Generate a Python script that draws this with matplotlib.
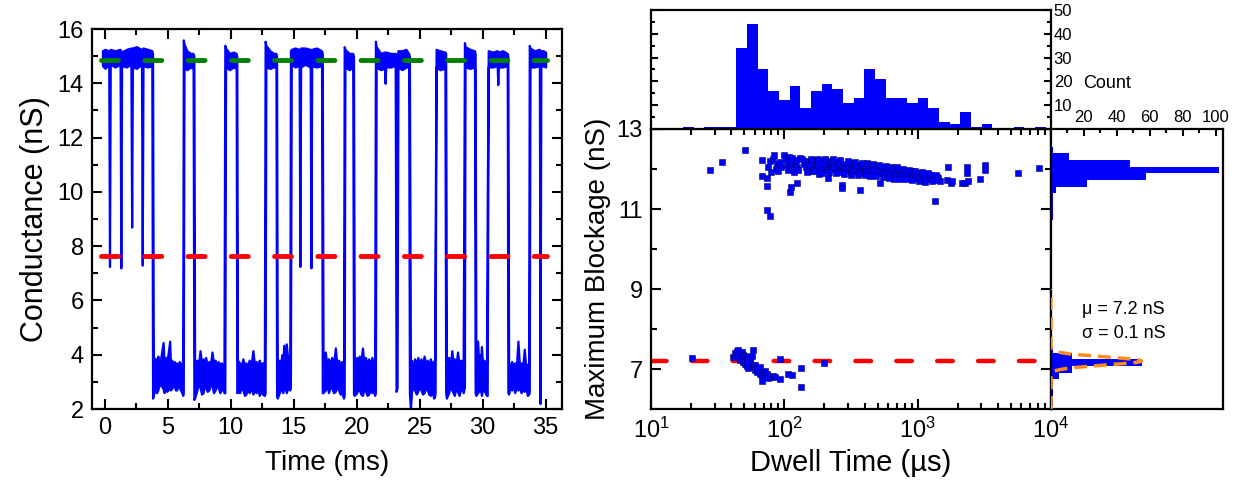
import numpy as np
import matplotlib
matplotlib.use('Agg')
import matplotlib.pyplot as plt
from matplotlib.ticker import MultipleLocator, FixedLocator, LogLocator, NullFormatter, FuncFormatter

plt.rcParams['font.family'] = ['Liberation Sans', 'DejaVu Sans']
plt.rcParams['mathtext.fontset'] = 'custom'
plt.rcParams['mathtext.rm'] = 'Liberation Sans'
plt.rcParams['mathtext.it'] = 'Liberation Sans:italic'

# ---------------- data: conductance trace (t [ms], lower envelope, upper envelope) -------------
trace_knots = [
    (-0.2, 14.65, 15.2), (0.0, 14.55, 15.25), (0.3, 14.7, 15.2), (0.36, 7.25, 15.15), (0.42, 14.7, 15.25),
    (0.8, 14.6, 15.2), (1.2, 14.7, 15.25), (1.26, 7.2, 15.2), (1.32, 14.65, 15.15), (1.7, 14.6, 15.25),
    (2.06, 14.7, 15.3), (2.12, 8.7, 15.2), (2.18, 14.6, 15.3), (2.5, 14.55, 15.35), (2.9, 14.7, 15.25),
    (2.96, 7.3, 15.2), (3.02, 14.65, 15.3), (3.4, 14.6, 15.25), (3.72, 14.65, 15.2),
    (3.78, 2.4, 15.1), (3.84, 2.5, 3.9),
    (4.0, 2.8, 3.85), (4.1, 2.6, 3.7), (4.2, 2.7, 3.95), (4.3, 2.9, 3.6), (4.4, 2.9, 3.8), (4.62, 2.75, 4.45),
    (4.7, 2.6, 3.7), (4.8, 2.85, 3.9), (4.9, 2.65, 3.75), (5.0, 2.7, 4.0),
    (5.14, 2.9, 4.5), (5.2, 2.7, 3.7), (5.3, 2.75, 3.8), (5.4, 2.9, 3.6), (5.5, 2.85, 3.75), (5.6, 2.7, 3.6),
    (5.7, 2.7, 3.7), (5.8, 2.9, 3.55), (5.9, 2.8, 3.75), (6.0, 2.7, 3.6), (6.1, 2.6, 3.7),
    (6.18, 2.5, 3.6),
    (6.22, 2.6, 15.6), (6.28, 14.6, 15.45), (6.5, 14.5, 15.2), (6.8, 14.6, 15.1), (7.0, 14.55, 15.1),
    (7.06, 2.35, 15.0), (7.12, 2.4, 3.7),
    (7.3, 2.7, 3.8), (7.42, 2.9, 3.6), (7.55, 2.8, 4.15), (7.67, 2.55, 3.7), (7.8, 2.6, 3.85), (7.9, 2.9, 3.65),
    (8.0, 2.8, 3.9), (8.12, 2.65, 3.6), (8.25, 2.7, 3.75), (8.38, 2.9, 3.65), (8.5, 2.85, 4.1),
    (8.62, 2.6, 3.7), (8.75, 2.7, 3.8), (8.88, 2.85, 3.6), (9.0, 2.8, 3.75), (9.12, 2.6, 3.6),
    (9.25, 2.7, 3.7), (9.35, 2.85, 3.55), (9.45, 2.6, 3.6),
    (9.52, 2.6, 15.4), (9.58, 14.6, 15.3), (9.9, 14.5, 15.1), (10.2, 14.6, 15.15), (10.42, 14.55, 15.1),
    (10.47, 2.6, 15.0), (10.52, 2.65, 3.8),
    (10.7, 2.6, 3.7), (10.82, 2.8, 3.55), (10.95, 2.7, 3.85), (11.08, 2.5, 3.6), (11.2, 2.55, 3.7),
    (11.32, 2.75, 3.55), (11.45, 2.6, 3.8), (11.6, 2.8, 3.6), (11.75, 2.55, 4.15), (11.88, 2.7, 3.6),
    (12.0, 2.6, 3.75), (12.12, 2.8, 3.55), (12.25, 2.5, 3.8), (12.38, 2.7, 3.6), (12.5, 2.55, 3.7),
    (12.66, 2.5, 3.7),
    (12.72, 2.6, 15.55), (12.78, 14.6, 15.4), (13.1, 14.55, 15.2), (13.4, 14.6, 15.1), (13.58, 14.6, 15.1),
    (13.63, 2.5, 15.0), (13.68, 2.4, 3.6),
    (13.85, 2.6, 3.8), (13.95, 2.8, 3.6), (14.05, 2.7, 4.0), (14.12, 2.6, 3.7), (14.2, 2.75, 4.35),
    (14.3, 2.85, 3.7), (14.4, 2.6, 4.4), (14.55, 2.8, 3.7), (14.68, 2.7, 3.6),
    (14.73, 2.8, 15.2), (14.8, 14.7, 15.25), (15.1, 14.6, 15.3), (15.42, 14.65, 15.25), (15.48, 7.25, 15.2),
    (15.54, 14.6, 15.3), (15.9, 14.7, 15.3), (16.3, 14.6, 15.25), (16.36, 7.2, 15.2), (16.42, 14.65, 15.25),
    (16.8, 14.6, 15.3), (17.2, 14.65, 15.2),
    (17.26, 2.6, 15.1), (17.32, 2.6, 3.9),
    (17.5, 2.7, 4.1), (17.62, 2.9, 3.6), (17.75, 2.6, 3.85), (17.88, 2.8, 3.6), (18.0, 2.8, 3.9),
    (18.15, 2.6, 3.65), (18.3, 2.65, 4.25), (18.42, 2.85, 3.6), (18.55, 2.7, 3.8), (18.68, 2.55, 3.6),
    (18.8, 2.6, 3.75), (18.95, 2.4, 3.7),
    (19.0, 2.5, 15.35), (19.06, 14.6, 15.25), (19.4, 14.5, 15.1), (19.68, 14.6, 15.1),
    (19.74, 2.55, 15.0), (19.8, 2.5, 3.7),
    (20.0, 2.6, 3.9), (20.1, 2.8, 3.6), (20.2, 2.7, 3.95), (20.32, 2.55, 3.7), (20.45, 2.5, 4.25),
    (20.58, 2.75, 3.65), (20.7, 2.65, 3.9), (20.82, 2.5, 3.6), (20.95, 2.55, 3.85), (21.08, 2.75, 3.6),
    (21.2, 2.6, 3.9), (21.32, 2.7, 3.6), (21.42, 2.5, 3.75),
    (21.48, 2.6, 15.55), (21.54, 14.6, 15.35), (21.9, 14.5, 15.1), (22.2, 14.55, 15.15), (22.25, 14.0, 15.1),
    (22.3, 14.6, 15.15), (22.7, 14.6, 15.1), (23.05, 14.65, 15.1),
    (23.12, 2.65, 15.0), (23.2, 2.8, 15.0), (23.27, 14.6, 15.2),
    (23.6, 14.5, 15.2), (23.9, 14.6, 15.25), (24.12, 14.6, 15.1),
    (24.18, 2.6, 15.0), (24.26, 1.95, 3.7), (24.34, 2.6, 3.8),
    (24.48, 2.85, 3.6), (24.6, 2.7, 3.85), (24.72, 2.55, 3.6), (24.85, 2.65, 3.9), (24.98, 2.85, 3.6),
    (25.1, 2.7, 3.85), (25.22, 2.55, 3.65), (25.35, 2.6, 3.95), (25.48, 2.8, 3.6), (25.6, 2.7, 3.8),
    (25.72, 2.55, 3.6), (25.85, 2.5, 3.85), (25.98, 2.7, 3.6), (26.1, 2.4, 3.75), (26.18, 2.45, 3.8),
    (26.22, 2.6, 8.0), (26.3, 14.6, 15.25), (26.6, 14.5, 15.2), (27.0, 14.55, 15.15),
    (27.06, 2.6, 15.1), (27.12, 2.4, 3.8),
    (27.3, 2.6, 3.9), (27.42, 2.85, 3.6), (27.55, 2.7, 4.15), (27.65, 2.6, 3.65), (27.75, 2.5, 3.85),
    (27.88, 2.8, 3.6), (28.0, 2.65, 4.1), (28.12, 2.5, 3.65), (28.25, 2.7, 3.8), (28.35, 2.85, 3.6),
    (28.45, 2.6, 3.85),
    (28.55, 2.8, 15.5), (28.6, 14.6, 15.35), (29.0, 14.55, 15.25), (29.35, 14.6, 15.2),
    (29.4, 2.6, 15.1), (29.46, 2.5, 3.9),
    (29.6, 2.6, 4.5), (29.68, 2.8, 3.7), (29.75, 2.65, 4.0), (29.82, 2.85, 3.6), (29.9, 2.5, 4.3),
    (30.0, 2.75, 3.6), (30.1, 2.7, 3.8), (30.2, 2.6, 3.6), (30.3, 2.5, 3.7),
    (30.36, 2.5, 9.5), (30.44, 14.6, 15.2),
    (30.8, 14.6, 15.15), (31.15, 14.65, 15.2), (31.2, 13.95, 15.1), (31.25, 14.6, 15.15), (31.6, 14.6, 15.2),
    (31.95, 14.65, 15.1),
    (32.0, 2.6, 15.0), (32.06, 2.55, 3.7),
    (32.18, 2.8, 3.55), (32.3, 2.7, 3.75), (32.42, 2.85, 3.6), (32.55, 2.6, 3.7), (32.68, 2.8, 3.6),
    (32.8, 2.7, 4.5), (32.92, 2.8, 3.6), (33.05, 2.6, 3.7), (33.18, 2.75, 3.55), (33.3, 2.65, 4.2),
    (33.42, 2.8, 3.6), (33.55, 2.5, 3.65), (33.65, 2.55, 3.6),
    (33.7, 2.6, 15.4), (33.76, 14.6, 15.3), (34.1, 14.6, 15.2), (34.5, 14.65, 15.25), (34.56, 2.2, 15.15),
    (34.62, 14.6, 15.2), (34.8, 14.65, 15.2), (35.0, 14.6, 15.15),
]
open_level = 14.85      # green dashed
block_level = 7.65      # red dashed
time_span = (-0.3, 35.1)

# ---------------- data: event scatter (dwell time [us], max blockage [nS]) ----------------
upper_events = [
    (27.7, 11.97), (34.3, 12.18), (50.7, 12.47), (67.6, 12.23), (67.6, 11.83), (73.7, 11.77), (73.7, 11.58),
    (73.7, 10.98), (78.1, 10.82), (76, 12.05), (78, 12.2), (80, 11.92), (82, 12.25), (84, 12.35), (86, 12.0),
    (88, 12.12), (90, 11.95), (92, 12.18), (95, 12.05), (100, 12.35), (103, 12.25), (105, 12.1), (107, 11.98),
    (108, 12.3), (110, 12.2), (110, 11.43), (112, 12.05), (113, 11.55), (115, 12.28), (118, 11.93),
    (120, 12.15), (122, 12.22), (125, 12.05), (125, 11.66), (127, 11.98), (130, 12.28),
    (140, 12.12), (145, 12.05), (150, 12.18), (155, 12.0), (160, 12.1), (165, 12.22), (170, 12.08),
    (172, 11.98), (175, 12.15), (180, 12.05), (183, 11.88), (186, 12.2), (190, 12.1), (195, 12.0),
    (200, 12.15), (205, 12.07), (210, 12.18), (214, 11.78), (218, 12.02), (222, 12.12), (228, 12.08),
    (235, 12.18), (240, 12.0), (245, 12.1), (250, 12.05), (255, 12.15), (262, 11.95), (268, 12.1),
    (269, 11.6), (270, 11.53), (275, 12.02), (280, 12.12), (288, 12.05), (295, 11.98), (300, 12.1),
    (310, 12.03), (315, 11.9), (320, 12.08), (330, 12.0), (340, 12.06), (350, 11.95), (360, 12.05),
    (370, 11.48), (375, 12.0), (385, 11.92), (395, 12.08), (405, 12.0), (415, 11.9), (425, 12.05),
    (435, 11.97), (445, 12.08), (455, 11.88), (465, 12.02), (475, 11.95), (490, 12.06), (505, 11.9),
    (520, 12.0), (522, 11.64), (535, 11.95), (550, 12.05), (565, 11.88), (580, 11.98), (595, 11.92),
    (610, 12.02), (625, 11.85), (640, 11.95), (655, 11.88), (670, 12.0), (690, 11.9), (710, 11.82),
    (725, 11.95), (745, 11.88), (765, 11.98), (785, 11.85), (805, 11.92), (825, 11.8), (850, 11.9),
    (875, 11.84), (900, 11.95), (925, 11.88), (950, 11.78), (975, 11.9), (1000, 11.85), (1030, 11.8),
    (1060, 11.88), (1090, 11.75), (1120, 11.85), (1150, 11.78), (1180, 11.82), (1220, 11.76),
    (1260, 11.85), (1300, 11.78), (1349, 11.19), (1380, 11.72), (1420, 11.78), (1460, 11.7),
    (1650, 11.72), (1698, 12.06), (1778, 11.64), (1800, 11.7), (2150, 11.66), (2250, 11.66),
    (2331, 12.06), (2331, 11.9), (2400, 11.7), (2934, 11.74), (3199, 12.1), (3199, 11.98),
    (5689, 11.89), (8175, 12.03),
    (142, 12.2), (152, 12.1), (162, 11.95), (178, 12.18), (188, 12.02), (198, 12.12), (208, 11.98),
    (225, 12.2), (232, 12.05), (248, 12.15), (258, 11.92), (285, 12.0), (305, 12.15), (325, 11.95),
    (345, 12.1), (365, 11.9), (390, 12.1), (410, 11.95), (430, 12.08), (450, 11.93), (470, 12.0),
    (500, 11.9), (530, 12.05), (560, 11.85), (590, 12.0), (620, 11.9), (650, 11.98), (680, 11.82),
    (720, 11.95), (760, 11.84), (800, 11.92), (840, 11.82), (880, 11.9), (920, 11.8), (960, 11.88),
    (1010, 11.78), (1050, 11.84), (1100, 11.76), (1160, 11.8), (1240, 11.84), (1320, 11.76), (1400, 11.8),
    (136, 12.25), (148, 11.92), (158, 12.26), (168, 11.94), (180, 12.25), (192, 11.9), (203, 12.25),
    (216, 11.92), (230, 12.24), (243, 11.9), (260, 12.22), (278, 11.88), (298, 12.2), (318, 11.85),
    (338, 12.18), (358, 11.86), (380, 12.16), (400, 11.84), (420, 12.14), (442, 11.82), (462, 12.12),
    (485, 11.82), (512, 12.1), (545, 11.8), (575, 12.08), (605, 11.78), (635, 12.06), (665, 11.76),
    (700, 12.04), (740, 11.76), (780, 12.0), (820, 11.74), (865, 11.98), (910, 11.72), (960, 11.96),
    (1020, 11.7), (1080, 11.92), (1140, 11.68), (1200, 11.9), (1290, 11.7), (1370, 11.86),
]
lower_events = [
    (20.2, 7.27), (41.4, 7.29), (42.7, 7.40), (43.9, 7.45), (43.9, 7.33), (45.2, 7.47), (45.2, 7.30),
    (46.5, 7.38), (46.5, 7.22), (47.9, 7.42), (47.9, 7.28), (49.3, 7.36), (49.3, 7.18), (50.7, 7.33),
    (50.7, 7.12), (52.2, 7.30), (52.2, 7.08), (53.7, 7.25), (53.7, 7.03), (55.3, 7.20), (55.3, 7.15),
    (56.9, 7.10), (56.9, 7.32), (58.6, 7.48), (58.6, 7.05), (60.3, 7.10), (60.3, 6.98), (62.0, 7.02),
    (62.0, 6.93), (63.8, 6.95), (63.8, 7.00), (65.7, 6.88), (65.7, 7.05), (67.6, 6.85), (67.6, 6.70),
    (69.6, 6.92), (71.6, 6.82), (71.6, 6.95), (73.7, 6.88), (75.9, 6.78), (78.1, 6.80), (81.8, 6.82),
    (85.1, 6.79), (92.8, 6.75), (92.0, 7.25), (107, 6.88), (114, 6.85), (133, 7.02), (133, 6.55),
    (200, 7.14),
]
fit_level = 7.2

# ---------------- data: histograms ----------------
dwell_bin_start_log, dwell_bin_step_log = 1.0, 0.08
dwell_counts = [0, 0, 0, 1, 0, 1, 1, 1, 34, 44, 25, 16, 12, 18, 9, 16, 19, 17, 11, 13, 25, 21, 13, 13, 11,
                13, 9, 3, 2, 7, 1, 2, 0, 0, 1, 0, 1, 0]
block_bin_start, block_bin_step = 6.08, 0.166
block_counts = [1, 1, 1, 1, 5, 13, 55, 13, 1, 0, 0, 0, 0, 0, 0, 0, 0, 0, 0, 0, 0, 0, 0, 0, 0, 0, 0, 0,
                1, 1, 1, 1, 3, 22, 58, 102, 48, 11, 1, 0, 0, 0]
gauss_mu, gauss_sigma, gauss_amp = 7.2, 0.1, 55

BLUE = '#0000FF'

fig = plt.figure(figsize=(12.41, 4.86), dpi=100)
W, H = 1241, 486
def rect(l, r, t, b):
    return [l / W, 1 - b / H, (r - l) / W, (b - t) / H]

ax1 = fig.add_axes(rect(92, 562, 29, 409))
axm = fig.add_axes(rect(651, 1051, 129, 409))
axt = fig.add_axes(rect(651, 1051, 10, 129), sharex=axm)
axr = fig.add_axes(rect(1051, 1223, 129, 409), sharey=axm)

tick_kw = dict(direction='in', width=1.5)
for ax in (ax1, axm, axt, axr):
    for s in ax.spines.values():
        s.set_linewidth(1.6)

# ---- left: trace ----
tk = np.array(trace_knots)
ax1.fill_between(tk[:, 0], tk[:, 1], tk[:, 2], color=BLUE, lw=1.6, edgecolor=BLUE)
ax1.plot(time_span, [open_level] * 2, color='#008000', lw=3.5, dashes=(3.5, 5.4), dash_capstyle='round')
ax1.plot(time_span, [block_level] * 2, color='#FF0000', lw=3.5, dashes=(3.5, 5.4), dash_capstyle='round')
ax1.set_xlim(-1.03, 36.3)
ax1.set_ylim(2, 16)
ax1.xaxis.set_major_locator(MultipleLocator(5))
ax1.xaxis.set_minor_locator(MultipleLocator(2.5))
ax1.yaxis.set_major_locator(MultipleLocator(2))
ax1.yaxis.set_minor_locator(MultipleLocator(1))
ax1.tick_params(which='both', top=True, right=True, **tick_kw)
ax1.tick_params(which='major', length=7, labelsize=17, pad=6)
ax1.tick_params(which='minor', length=4)
ax1.set_xlabel('Time (ms)', fontsize=20, labelpad=8)
ax1.set_ylabel('Conductance (nS)', fontsize=22, labelpad=5)

# ---- main scatter ----
ue = np.array(upper_events)
le = np.array(lower_events)
axm.set_xscale('log')
axm.plot([10, 1e4], [fit_level] * 2, color='#FF0000', lw=3.2, dashes=(3.5, 5.7), dash_capstyle='round', zorder=1)
axm.scatter(ue[:, 0], ue[:, 1], marker='s', s=14, color=BLUE, edgecolor='#000080', linewidths=0.4, zorder=3)
axm.scatter(le[:, 0], le[:, 1], marker='s', s=14, color=BLUE, edgecolor='#000080', linewidths=0.4, zorder=3)
axm.set_xlim(10, 1e4)
axm.set_ylim(6, 13)
axm.yaxis.set_major_locator(FixedLocator([7, 9, 11, 13]))
axm.yaxis.set_minor_locator(FixedLocator([6, 8, 10, 12]))
axm.xaxis.set_major_locator(LogLocator(base=10, numticks=10))
axm.xaxis.set_minor_locator(LogLocator(base=10, subs=np.arange(2, 10), numticks=20))
axm.xaxis.set_minor_formatter(NullFormatter())
axm.tick_params(which='both', top=True, right=True, **tick_kw)
axm.tick_params(which='major', length=7, labelsize=17, pad=6)
axm.tick_params(which='minor', length=4)
axm.set_xlabel('Dwell Time (\u00b5s)', fontsize=21, labelpad=5)
axm.set_ylabel('Maximum Blockage (nS)', fontsize=20, labelpad=4)

# ---- top histogram ----
dwell_edges = 10 ** (dwell_bin_start_log + dwell_bin_step_log * np.arange(len(dwell_counts) + 1))
axt.stairs(dwell_counts, dwell_edges, fill=True, color=BLUE)
axt.set_ylim(0, 50)
axt.yaxis.set_major_locator(MultipleLocator(10))
axt.yaxis.set_minor_locator(MultipleLocator(5))
axt.yaxis.set_major_formatter(FuncFormatter(lambda v, p: '' if v == 0 else f'{int(v)}'))
axt.tick_params(axis='x', which='both', bottom=False, top=False, labelbottom=False)
axt.tick_params(axis='y', which='both', left=True, right=True, labelleft=False, labelright=True, **tick_kw)
axt.tick_params(axis='y', which='major', length=5, labelsize=12, pad=2)
axt.tick_params(axis='y', which='minor', length=3)

# ---- right histogram ----
block_edges = block_bin_start + block_bin_step * np.arange(len(block_counts) + 1)
axr.stairs(block_counts, block_edges, orientation='horizontal', fill=True, color=BLUE)
gy = np.linspace(6.0, 9.0, 400)
gx = gauss_amp * np.exp(-(gy - gauss_mu) ** 2 / (2 * gauss_sigma ** 2))
axr.plot(gx, gy, color='#FF8C1A', lw=2.5, dashes=(3.7, 2.0), zorder=4)
axr.set_xlim(0, 104.5)
axr.xaxis.set_major_locator(FixedLocator([20, 40, 60, 80, 100]))
axr.xaxis.set_minor_locator(MultipleLocator(10))
axr.tick_params(axis='x', which='both', bottom=False, top=True, labelbottom=False, labeltop=True, **tick_kw)
axr.tick_params(axis='x', which='major', length=5, labelsize=12, pad=3)
axr.tick_params(axis='x', which='minor', length=3)
axr.tick_params(axis='y', which='both', left=False, right=False, labelleft=False)
axr.text(19, 8.48, '\u03bc = 7.2 nS', fontsize=13, va='center', ha='left')
axr.text(19, 7.88, '\u03c3 = 0.1 nS', fontsize=13, va='center', ha='left')
fig.text(1083 / W, 1 - 83 / H, 'Count', fontsize=13, va='center', ha='left')

fig.savefig('out.png', dpi=100)
